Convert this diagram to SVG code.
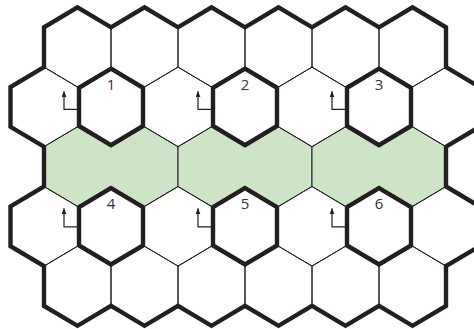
<svg xmlns="http://www.w3.org/2000/svg" xmlns:xlink="http://www.w3.org/1999/xlink" width="474" height="329" viewBox="0 0 474 329">
<style>
.cell{fill:none;stroke:#231f20;stroke-width:1}
.green{fill:#cde5c6;stroke:#231f20;stroke-width:1}
.outer{fill:none;stroke:#231f20;stroke-width:4.4;stroke-linejoin:miter}
.bold{fill:none;stroke:#231f20;stroke-width:4.4;stroke-linejoin:miter}
.lbl{font-family:"Open Sans","Liberation Sans",sans-serif;font-size:15px;fill:#333;text-anchor:middle}
.arr{fill:none;stroke:#231f20;stroke-width:1.2;marker-end:url(#ah)}
</style>
<defs>
<polygon id="hx" points="0,-39.8 33.5,-19.9 33.5,19.9 0,39.8 -33.5,19.9 -33.5,-19.9"/>
<marker id="ah" markerUnits="userSpaceOnUse" viewBox="0 0 6 5" markerWidth="6" markerHeight="5" refX="6" refY="2.5" orient="auto"><path d="M0,0 L6,2.5 L0,5 z" fill="#231f20"/></marker>
</defs>
<rect width="474" height="329" fill="#fff"/>
<g id="green-band">
<polygon id="green-a" class="green" points="44,146.7 77.5,126.8 111,146.7 144.5,126.8 178,146.7 178,186.5 144.5,206.4 111,186.5 77.5,206.4 44,186.5"/>
<polygon id="green-b" class="green" points="178,146.7 211.5,126.8 245,146.7 278.5,126.8 312,146.7 312,186.5 278.5,206.4 245,186.5 211.5,206.4 178,186.5"/>
<polygon id="green-c" class="green" points="312,146.7 345.5,126.8 379,146.7 412.5,126.8 446,146.7 446,186.5 412.5,206.4 379,186.5 345.5,206.4 312,186.5"/>
</g>
<g id="grid" class="cell">
<use id="c0-0" href="#hx" x="77.5" y="47.2"/>
<use id="c0-1" href="#hx" x="144.5" y="47.2"/>
<use id="c0-2" href="#hx" x="211.5" y="47.2"/>
<use id="c0-3" href="#hx" x="278.5" y="47.2"/>
<use id="c0-4" href="#hx" x="345.5" y="47.2"/>
<use id="c0-5" href="#hx" x="412.5" y="47.2"/>
<use id="c1-0" href="#hx" x="44" y="106.9"/>
<use id="c1-1" href="#hx" x="111" y="106.9"/>
<use id="c1-2" href="#hx" x="178" y="106.9"/>
<use id="c1-3" href="#hx" x="245" y="106.9"/>
<use id="c1-4" href="#hx" x="312" y="106.9"/>
<use id="c1-5" href="#hx" x="379" y="106.9"/>
<use id="c1-6" href="#hx" x="446" y="106.9"/>
<use id="c3-0" href="#hx" x="44" y="226.3"/>
<use id="c3-1" href="#hx" x="111" y="226.3"/>
<use id="c3-2" href="#hx" x="178" y="226.3"/>
<use id="c3-3" href="#hx" x="245" y="226.3"/>
<use id="c3-4" href="#hx" x="312" y="226.3"/>
<use id="c3-5" href="#hx" x="379" y="226.3"/>
<use id="c3-6" href="#hx" x="446" y="226.3"/>
<use id="c4-0" href="#hx" x="77.5" y="286"/>
<use id="c4-1" href="#hx" x="144.5" y="286"/>
<use id="c4-2" href="#hx" x="211.5" y="286"/>
<use id="c4-3" href="#hx" x="278.5" y="286"/>
<use id="c4-4" href="#hx" x="345.5" y="286"/>
<use id="c4-5" href="#hx" x="412.5" y="286"/>
</g>
<g id="outline">
<path class="outer" d="M44,67.1 L44,27.3 L77.5,7.4 L111,27.3 L144.5,7.4 L178,27.3 L211.5,7.4 L245,27.3 L278.5,7.4 L312,27.3 L345.5,7.4 L379,27.3 L412.5,7.4 L446,27.3 L446,67.1 L479.5,87 L479.5,126.8 L446,146.7 L446,186.5 L479.5,206.4 L479.5,246.2 L446,266.1 L446,305.9 L412.5,325.8 L379,305.9 L345.5,325.8 L312,305.9 L278.5,325.8 L245,305.9 L211.5,325.8 L178,305.9 L144.5,325.8 L111,305.9 L77.5,325.8 L44,305.9 L44,266.1 L10.5,246.2 L10.5,206.4 L44,186.5 L44,146.7 L10.5,126.8 L10.5,87 Z"/>
</g>
<g id="node1"><polygon class="bold" points="111,68.7 143,87.8 143,126 111,145.1 79,126 79,87.8"/><text class="lbl" x="111" y="89.6">1</text></g>
<g id="node2"><polygon class="bold" points="245,68.7 277,87.8 277,126 245,145.1 213,126 213,87.8"/><text class="lbl" x="245" y="89.6">2</text></g>
<g id="node3"><polygon class="bold" points="379,68.7 411,87.8 411,126 379,145.1 347,126 347,87.8"/><text class="lbl" x="379" y="89.6">3</text></g>
<g id="node4"><polygon class="bold" points="111,188.1 143,207.2 143,245.4 111,264.5 79,245.4 79,207.2"/><text class="lbl" x="111" y="208.6">4</text></g>
<g id="node5"><polygon class="bold" points="245,188.1 277,207.2 277,245.4 245,264.5 213,245.4 213,207.2"/><text class="lbl" x="245" y="208.6">5</text></g>
<g id="node6"><polygon class="bold" points="379,188.1 411,207.2 411,245.4 379,264.5 347,245.4 347,207.2"/><text class="lbl" x="379" y="208.6">6</text></g>
<g id="connectors">
<path class="arr" d="M79,109.3 H64 V91.2"/>
<path class="arr" d="M213,109.3 H198 V91.2"/>
<path class="arr" d="M347,109.3 H332 V91.2"/>
<path class="arr" d="M79,226.8 H64 V208.3"/>
<path class="arr" d="M213,226.8 H198 V208.3"/>
<path class="arr" d="M347,226.8 H332 V208.3"/>
</g>
</svg>
